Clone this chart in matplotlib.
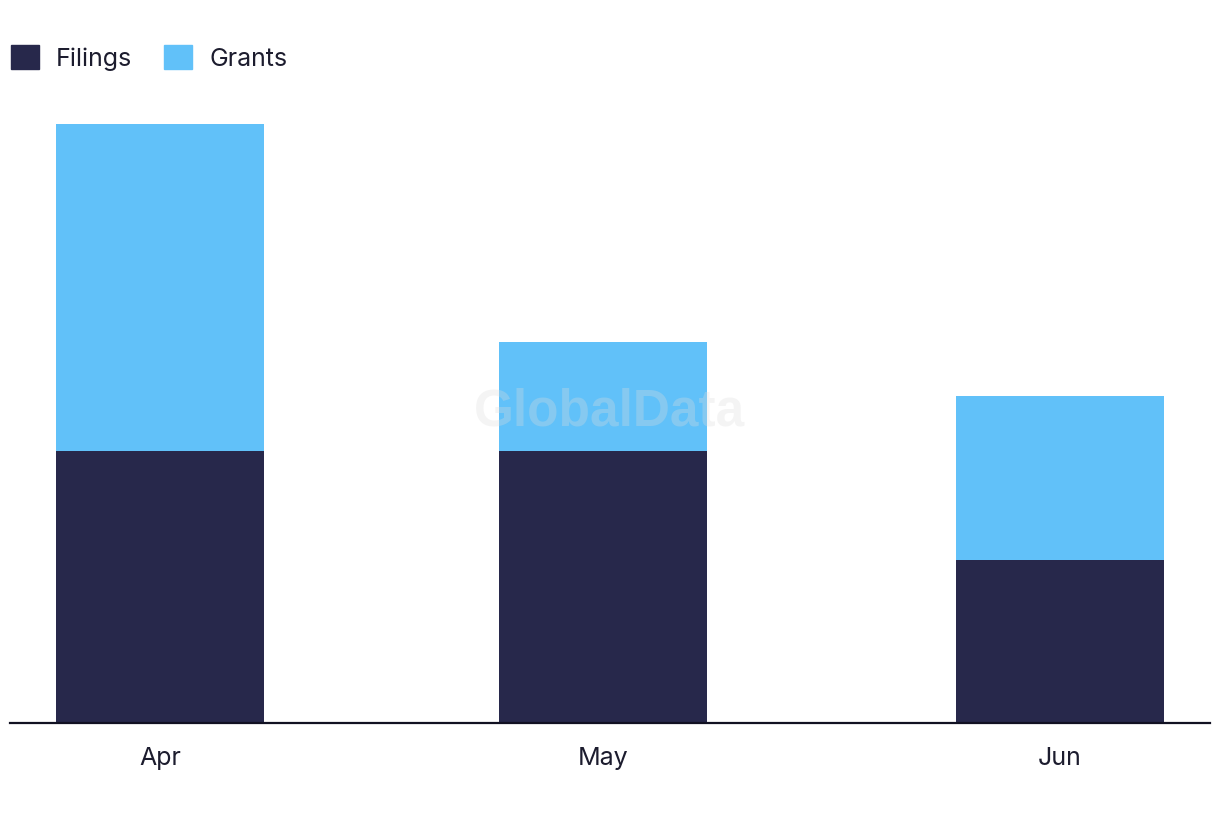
import matplotlib
matplotlib.use("Agg")
import matplotlib.pyplot as plt
import matplotlib.dates as mdates
import pandas as pd
from matplotlib.patches import Patch

# data
months = ["2024-04-01", "2024-05-01", "2024-06-01"]
month_labels = ["Apr", "May", "Jun"]
filings = [5, 5, 3]
grants = [6, 2, 3]

DARK = "#27284b"
LIGHT = "#61c1f9"
TEXT = "#1c1c2e"

plt.rcParams['font.family'] = ['Inter', 'DejaVu Sans']

x = mdates.date2num(pd.to_datetime(months))
bottoms = filings

fig = plt.figure(figsize=(12.2, 8.22), dpi=100)
ax = fig.add_axes((10 / 1220, 1 - 723 / 822, 1200 / 1220, (723 - 124) / 822))

ax.bar(x, filings, width=14.1, color=DARK, label="Filings")
ax.bar(x, grants, width=14.1, bottom=bottoms, color=LIGHT, label="Grants")

ax.set_xlim(x[0] - 10.17, x[-1] + 10.17)
ax.set_ylim(0, 11)

for side in ("top", "right", "left"):
    ax.spines[side].set_visible(False)
ax.spines["bottom"].set_color("#111122")
ax.spines["bottom"].set_linewidth(1.6)
ax.set_yticks([])
ax.set_xticks(x)
ax.set_xticklabels(month_labels, fontsize=18, color=TEXT)
ax.tick_params(axis="x", length=0, pad=17)

# watermark
fig.text(610 / 1220, 1 - 412 / 822, "GlobalData", ha="center", va="center",
         fontsize=37, fontweight="bold", color="#dcdcdc", alpha=0.3,
         family=["Liberation Sans", "DejaVu Sans"])

handles = [Patch(color=DARK, label="Filings"), Patch(color=LIGHT, label="Grants")]
fig.legend(handles=handles, loc="upper left", bbox_to_anchor=(6 / 1220, 1 - 40 / 822),
           ncol=2, frameon=False, fontsize=18, handlelength=1.12, handleheight=1.12,
           handletextpad=0.68, columnspacing=1.28, borderaxespad=0, labelcolor=TEXT,
           borderpad=0.2)

fig.savefig("out.png", dpi=100, facecolor="white")
